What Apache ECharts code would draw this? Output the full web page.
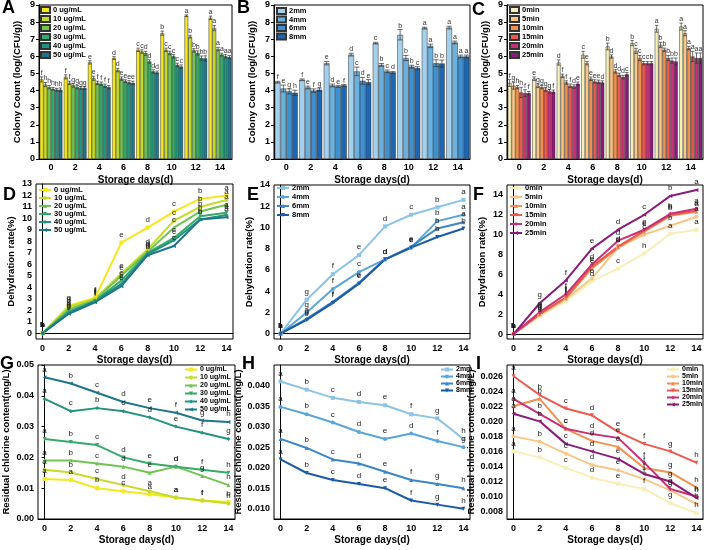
<!DOCTYPE html>
<html>
<head>
<meta charset="utf-8">
<script src="https://cdn.jsdelivr.net/npm/echarts@6/dist/echarts.min.js"></script>
<style>
html, body { margin: 0; padding: 0; background: #fff; }
#main { width: 709px; height: 550px; }
</style>
</head>
<body>
<div id="main"></div>
<script>
// ---- data ----
const days = [0, 2, 4, 6, 8, 10, 12, 14];
const dayLabels = ['0', '2', '4', '6', '8', '10', '12', '14'];

const concNames = ['0 ug/mL', '10 ug/mL', '20 ug/mL', '30 ug/mL', '40 ug/mL', '50 ug/mL'];
const sizeNames = ['2mm', '4mm', '6mm', '8mm'];
const timeNames = ['0min', '5min', '10min', '15min', '20min', '25min'];

// A - colony count, concentration
const colonyA = [
  [4.65, 4.8, 5.65, 5.9, 6.38, 7.35, 8.37, 8.25],
  [4.35, 4.45, 4.72, 5.2, 6.28, 6.38, 7.15, 7.65],
  [4.2, 4.3, 4.45, 4.7, 6.18, 6.2, 6.35, 6.42],
  [4.1, 4.2, 4.4, 4.55, 5.7, 6.0, 6.2, 6.1],
  [4.05, 4.15, 4.28, 4.48, 5.12, 5.5, 5.9, 6.0],
  [4.05, 4.15, 4.2, 4.45, 5.06, 5.4, 5.88, 5.95]
];
const errA = [
  [0.15, 0.12, 0.1, 0.08, 0.1, 0.12, 0.05, 0.1],
  [0.12, 0.1, 0.12, 0.1, 0.1, 0.1, 0.08, 0.15],
  [0.1, 0.1, 0.1, 0.1, 0.12, 0.1, 0.1, 0.1],
  [0.08, 0.1, 0.1, 0.08, 0.1, 0.1, 0.12, 0.08],
  [0.08, 0.08, 0.1, 0.1, 0.1, 0.1, 0.12, 0.1],
  [0.1, 0.08, 0.1, 0.1, 0.08, 0.1, 0.15, 0.1]
];
const lettersA = ['ffedcbaa', 'hfedccba', 'hgfedcba', 'hgfedcba', 'hgfedcba', 'hgfedcba'];

// B - colony count, size
const colonyB = [
  [4.49, 4.63, 5.6, 6.1, 6.77, 7.26, 7.65, 7.68],
  [4.12, 4.18, 4.3, 5.12, 5.5, 5.9, 6.61, 6.81],
  [3.95, 4.0, 4.24, 4.57, 5.12, 5.4, 5.6, 5.99],
  [3.87, 4.05, 4.3, 4.49, 5.06, 5.31, 5.58, 5.99]
];
const errB = [
  [0.05, 0.05, 0.1, 0.08, 0.05, 0.3, 0.05, 0.08],
  [0.2, 0.08, 0.08, 0.25, 0.08, 0.15, 0.1, 0.08],
  [0.15, 0.1, 0.05, 0.2, 0.08, 0.08, 0.2, 0.08],
  [0.15, 0.1, 0.05, 0.15, 0.05, 0.08, 0.2, 0.08]
];
const lettersB = ['ffedcbaa', 'eedcbbaa', 'gfedcbba', 'hgfedcba'];

// C - colony count, time
const colonyC = [
  [4.44, 4.69, 5.64, 6.09, 6.58, 6.77, 7.61, 7.74],
  [4.28, 4.28, 4.86, 5.6, 5.99, 6.32, 6.67, 7.35],
  [4.2, 4.2, 4.47, 4.69, 5.12, 5.9, 6.38, 6.48],
  [3.89, 4.05, 4.28, 4.53, 4.92, 5.6, 5.9, 5.99],
  [3.85, 3.95, 4.24, 4.51, 4.79, 5.6, 5.75, 5.9],
  [3.85, 3.93, 4.4, 4.47, 4.95, 5.6, 5.7, 5.9]
];
const errC = [
  [0.2, 0.1, 0.15, 0.2, 0.2, 0.15, 0.2, 0.2],
  [0.2, 0.1, 0.1, 0.1, 0.1, 0.15, 0.15, 0.15],
  [0.1, 0.1, 0.1, 0.1, 0.1, 0.15, 0.1, 0.1],
  [0.3, 0.1, 0.1, 0.1, 0.1, 0.1, 0.15, 0.3],
  [0.2, 0.1, 0.1, 0.1, 0.1, 0.1, 0.15, 0.3],
  [0.1, 0.1, 0.1, 0.1, 0.1, 0.1, 0.2, 0.3]
];
const lettersC = ['fedcbbaa', 'ggfedcba', 'hgfedcba', 'hgfedcba', 'fgdedcba', 'ffedcbba'];

// D - dehydration, concentration
const dehydD = [
  [0, 2.4, 3.1, 7.9, 9.2, 10.6, 11.7, 12.0],
  [0, 2.3, 3.0, 5.2, 7.3, 9.8, 11.0, 11.6],
  [0, 2.1, 2.9, 5.0, 7.1, 9.2, 10.6, 11.2],
  [0, 1.9, 2.8, 4.6, 7.0, 8.3, 10.2, 10.5],
  [0, 1.8, 2.8, 4.3, 6.9, 8.1, 9.9, 10.3],
  [0, 1.7, 2.7, 4.1, 6.8, 7.6, 9.9, 10.1]
];
const lettersD = ['hgfedcba', 'hgfedcba', 'hgfedcba', 'hgfedcba', 'hgfedcba', 'hgfedcba'];

// E - dehydration, size
const dehydE = [
  [0, 3.2, 5.6, 7.4, 10.1, 11.2, 11.9, 12.6],
  [0, 2.0, 4.2, 5.8, 7.0, 8.1, 10.6, 11.2],
  [0, 1.4, 3.0, 4.8, 7.0, 8.2, 9.9, 10.5],
  [0, 1.3, 2.9, 4.7, 7.0, 8.1, 9.1, 9.9]
];
const lettersE = ['hgfedcba', 'hgfcdeba', 'hgfedeba', 'hgfedebb'];

// F - dehydration, time
const dehydF = [
  [0, 1.8, 3.3, 5.3, 6.6, 8.1, 10.1, 10.5],
  [0, 1.9, 3.5, 5.6, 8.7, 10.0, 10.9, 11.8],
  [0, 2.0, 3.6, 6.6, 8.7, 10.3, 11.9, 12.3],
  [0, 2.0, 3.7, 6.8, 8.8, 10.4, 12.0, 12.4],
  [0, 2.2, 4.0, 7.0, 9.4, 10.5, 12.1, 12.6],
  [0, 3.1, 5.4, 8.6, 10.5, 12.0, 13.9, 14.5]
];
const lettersF = ['hgfdchaa', 'hgfedcba', 'hgfedcba', 'hgfedcba', 'hgfddcba', 'hgfedcba'];

// G - residual chlorine, concentration
const chlorG = [
  [0.013, 0.0127, 0.010, 0.009, 0.008, 0.007, 0.006, 0.0055],
  [0.016, 0.0151, 0.013, 0.011, 0.009, 0.007, 0.006, 0.005],
  [0.019, 0.019, 0.018, 0.017, 0.015, 0.017, 0.014, 0.011],
  [0.026, 0.025, 0.024, 0.020, 0.018, 0.017, 0.016, 0.015],
  [0.039, 0.035, 0.036, 0.035, 0.033, 0.030, 0.028, 0.026],
  [0.046, 0.044, 0.041, 0.038, 0.036, 0.0345, 0.032, 0.0315]
];
const lettersG = ['aabcaafb', 'abcdaafh', 'abcdedgh', 'abcdedfh', 'acbcdefg', 'abcdefgh'];

// H - residual chlorine, size
const chlorH = [
  [0.041, 0.039, 0.037, 0.036, 0.0352, 0.033, 0.032, 0.027],
  [0.0348, 0.033, 0.031, 0.0287, 0.027, 0.0283, 0.0265, 0.025],
  [0.027, 0.0248, 0.022, 0.021, 0.019, 0.017, 0.016, 0.015],
  [0.022, 0.0187, 0.017, 0.016, 0.015, 0.012, 0.011, 0.010]
];
const lettersH = ['abcdefgh', 'abcdedfg', 'abcdefgh', 'abcdefgh'];

// I - residual chlorine, time
const chlorI = [
  [0.016, 0.0152, 0.0138, 0.0125, 0.0117, 0.011, 0.0091, 0.0078],
  [0.018, 0.0173, 0.0157, 0.0142, 0.0135, 0.0123, 0.0108, 0.009],
  [0.022, 0.023, 0.019, 0.0174, 0.0166, 0.0138, 0.0132, 0.0112],
  [0.026, 0.0235, 0.0217, 0.0208, 0.0186, 0.017, 0.016, 0.0145],
  [0.023, 0.021, 0.019, 0.0183, 0.0178, 0.0145, 0.011, 0.010],
  [0.021, 0.020, 0.017, 0.016, 0.015, 0.013, 0.012, 0.0098]
];
const lettersI = ['abcdefgh', 'abcdefgh', 'abcdefgh', 'abcdefgh', 'abcdefgh', 'abcdefgh'];

// ---- styles ----
const concColors = ['#f6e71c', '#c6da2a', '#74c253', '#36a96b', '#22937d', '#1f758a'];
const sizeColors = ['#a4d0ec', '#6cb0de', '#3f90cf', '#1f66b0'];
const timeColors = ['#f7efb8', '#f8c788', '#f19150', '#eb5a4e', '#c93177', '#8a1c78'];
const lineSizeColors = ['#8cc4e6', '#5aa6da', '#3a86c6', '#1d5aa6'];
const symbols = ['rect', 'circle', 'triangle', 'path://M0,0L10,0L5,10Z', 'diamond', 'path://M10,0L10,10L0,5Z'];

const FONT = 'Liberation Sans';
const boldText = (size) => ({ color: '#000', fontFamily: FONT, fontWeight: 'bold', fontSize: size });
const CAT_GAP = 0.06;

const grids = [
  { left: 39, top: 5, width: 193, height: 154 },
  { left: 274, top: 5, width: 196, height: 154 },
  { left: 507, top: 5, width: 196, height: 154 },
  { left: 36, top: 184, width: 197, height: 155 },
  { left: 274, top: 185, width: 196, height: 154 },
  { left: 507, top: 185, width: 196, height: 154 },
  { left: 38, top: 365, width: 197, height: 154 },
  { left: 274, top: 365, width: 196, height: 154 },
  { left: 507, top: 365, width: 196, height: 154 }
].map(g => Object.assign(g, { show: true, borderColor: '#000', borderWidth: 1, backgroundColor: 'transparent' }));

const xName = {
  name: 'Storage days(d)', nameLocation: 'middle', nameGap: 16,
  nameTextStyle: boldText(10)
};
const axisLine = { show: true, lineStyle: { color: '#000', width: 1 } };

function catX(i) {
  return Object.assign({
    gridIndex: i, type: 'category', data: dayLabels,
    axisLine: axisLine,
    axisTick: { alignWithLabel: true, length: 3, lineStyle: { color: '#000' } },
    axisLabel: Object.assign(boldText(9), { margin: 4 }),
    splitLine: { show: false }
  }, xName);
}
function valX(i) {
  return Object.assign({
    gridIndex: i, type: 'value', min: -0.5, max: 14.5, interval: 0.5,
    axisLine: axisLine, axisTick: { show: false },
    axisLabel: Object.assign(boldText(9), {
      margin: 5,
      formatter: v => (v >= 0 && v <= 14 && v % 2 === 0) ? String(v) : ''
    }),
    splitLine: { show: false }
  }, xName);
}
function yAx(i, name, gap, extra) {
  return Object.assign({
    gridIndex: i, type: 'value',
    name: name, nameLocation: 'middle', nameGap: gap, nameTextStyle: boldText(9.5),
    axisLine: axisLine,
    axisTick: { show: true, length: 3, lineStyle: { color: '#000' } },
    axisLabel: Object.assign(boldText(9), { margin: 4 }),
    splitLine: { show: false }
  }, extra);
}
const colonyName = 'Colony Count (log/(CFU/g))';
const dehydName = 'Dehydration rate(%)';
const chlorName = 'Residual chlorine content(mg/L)';

const xAxes = [catX(0), catX(1), catX(2), valX(3), valX(4), valX(5), valX(6), valX(7), valX(8)];
const yAxes = [
  yAx(0, colonyName, 17, { min: 0, max: 9, interval: 1 }),
  yAx(1, colonyName, 17, { min: 0, max: 9, interval: 1 }),
  yAx(2, colonyName, 17, { min: 0, max: 9, interval: 1 }),
  yAx(3, dehydName, 20, { min: -0.5, max: 13, interval: 0.5, axisTick: { show: false },
    axisLabel: Object.assign(boldText(9), { margin: 4, formatter: v => (v >= 0 && Number.isInteger(v)) ? String(v) : '' }) }),
  yAx(4, dehydName, 20, { min: -0.5, max: 14, interval: 0.5, axisTick: { show: false },
    axisLabel: Object.assign(boldText(9), { margin: 4, formatter: v => (v >= 0 && v % 2 === 0) ? String(v) : '' }) }),
  yAx(5, dehydName, 20, { min: -0.5, max: 15, interval: 0.5, axisTick: { show: false },
    axisLabel: Object.assign(boldText(9), { margin: 4, formatter: v => (v >= 0 && v <= 14 && v % 2 === 0) ? String(v) : '' }) }),
  yAx(6, chlorName, 27, { min: 0, max: 0.05, interval: 0.01,
    axisLabel: Object.assign(boldText(9), { margin: 4, formatter: v => v.toFixed(2) }) }),
  yAx(7, chlorName, 30, { min: 0.0075, max: 0.045, interval: 0.0025, axisTick: { show: false },
    axisLabel: Object.assign(boldText(9), { margin: 4,
      formatter: v => (Math.abs(v * 200 - Math.round(v * 200)) < 1e-6 && v < 0.044) ? v.toFixed(3) : '' }) }),
  yAx(8, chlorName, 30, { min: 0.007, max: 0.0275, interval: 0.0005, axisTick: { show: false },
    axisLabel: Object.assign(boldText(9), { margin: 4,
      formatter: v => (Math.abs(v * 500 - Math.round(v * 500)) < 1e-6 && v > 0.0075 && v < 0.027) ? v.toFixed(3) : '' }) })
];

const series = [];
function addBars(panel, i, names, colors, values, errs, letters) {
  const n = names.length;
  names.forEach((name, k) => {
    series.push({
      type: 'bar', name: panel + '|' + name, xAxisIndex: i, yAxisIndex: i,
      data: values[k], barGap: '0%', barCategoryGap: (CAT_GAP * 100) + '%',
      itemStyle: { color: colors[k], borderColor: '#333', borderWidth: 0.5 }
    });
  });
  // error bars + significance letters
  names.forEach((name, k) => {
    series.push({
      type: 'custom', xAxisIndex: i, yAxisIndex: i, z: 5,
      data: values[k].map((v, j) => [j, v, errs[k][j]]),
      renderItem: (params, api) => {
        const j = api.value(0), v = api.value(1), e = api.value(2);
        const band = api.size([1, 0])[0];
        const bw = band * (1 - CAT_GAP) / n;
        const c = api.coord([j, v]);
        const cx = c[0] - band * (1 - CAT_GAP) / 2 + bw * (k + 0.5);
        const hi = api.coord([j, v + e])[1];
        const lo = api.coord([j, v - e])[1];
        const cap = Math.max(bw * 0.45, 1.5);
        const st = { stroke: '#333', lineWidth: 0.7 };
        return {
          type: 'group', children: [
            { type: 'line', shape: { x1: cx, y1: lo, x2: cx, y2: hi }, style: st },
            { type: 'line', shape: { x1: cx - cap, y1: hi, x2: cx + cap, y2: hi }, style: st },
            { type: 'line', shape: { x1: cx - cap, y1: lo, x2: cx + cap, y2: lo }, style: st },
            { type: 'text', style: { text: letters[k][j], x: cx, y: hi - 0.5, align: 'center', verticalAlign: 'bottom',
              fontSize: 7, fontFamily: FONT, fill: '#333' } }
          ]
        };
      }
    });
  });
}
function addLines(panel, i, names, colors, values, letters) {
  names.forEach((name, k) => {
    series.push({
      type: 'line', name: panel + '|' + name, xAxisIndex: i, yAxisIndex: i,
      data: days.map((d, j) => [d, values[k][j]]),
      symbol: symbols[k], symbolSize: 4,
      lineStyle: { color: colors[k], width: 2 },
      itemStyle: { color: colors[k] },
      label: { show: true, position: 'top', distance: 2, fontSize: 8, fontFamily: FONT, color: '#222',
        formatter: p => letters[k][p.dataIndex] }
    });
  });
}
addBars('A', 0, concNames, concColors, colonyA, errA, lettersA);
addBars('B', 1, sizeNames, sizeColors, colonyB, errB, lettersB);
addBars('C', 2, timeNames, timeColors, colonyC, errC, lettersC);
addLines('D', 3, concNames, concColors, dehydD, lettersD);
addLines('E', 4, sizeNames, lineSizeColors, dehydE, lettersE);
addLines('F', 5, timeNames, timeColors, dehydF, lettersF);
addLines('G', 6, concNames, concColors, chlorG, lettersG);
addLines('H', 7, sizeNames, lineSizeColors, chlorH, lettersH);
addLines('I', 8, timeNames, timeColors, chlorI, lettersI);

function legend(panel, names, pos, bar, size, gap) {
  return Object.assign({
    orient: 'vertical', data: names.map(n => panel + '|' + n),
    formatter: n => n.split('|')[1],
    icon: bar ? 'rect' : undefined,
    itemWidth: bar ? 9 : 12, itemHeight: bar ? 6 : 5, itemGap: gap, padding: 0,
    selectedMode: false,
    textStyle: Object.assign(boldText(size), { padding: [0, 0, 0, -2] })
  }, pos);
}
const legends = [
  legend('A', concNames, { left: 40, top: 6 }, true, 7.5, 1),
  legend('B', sizeNames, { left: 276, top: 7 }, true, 7.5, 0.5),
  legend('C', timeNames, { left: 509, top: 6 }, true, 7.5, 1),
  legend('D', concNames, { left: 38, top: 186 }, false, 7.5, 0),
  legend('E', sizeNames, { left: 276, top: 184 }, false, 7.5, 1),
  legend('F', timeNames, { left: 509, top: 184 }, false, 7.5, 1),
  legend('G', concNames, { left: 184, top: 366 }, false, 7, 1),
  legend('H', sizeNames, { left: 440, top: 366 }, false, 7, 0),
  legend('I', timeNames, { left: 666, top: 366 }, false, 7, 0)
];

const panelTitles = [
  ['A', 2, -1], ['B', 237, -1], ['C', 472, 1],
  ['D', 3, 186], ['E', 247, 186], ['F', 473, 186],
  ['G', 0, 355], ['H', 242, 355], ['I', 476, 355]
].map(t => ({ text: t[0], left: t[1], top: t[2], padding: 0, textStyle: boldText(18) }));

const chart = echarts.init(document.getElementById('main'));
chart.setOption({
  animation: false,
  backgroundColor: '#fff',
  title: panelTitles,
  legend: legends,
  grid: grids,
  xAxis: xAxes,
  yAxis: yAxes,
  series: series
});
</script>
</body>
</html>
